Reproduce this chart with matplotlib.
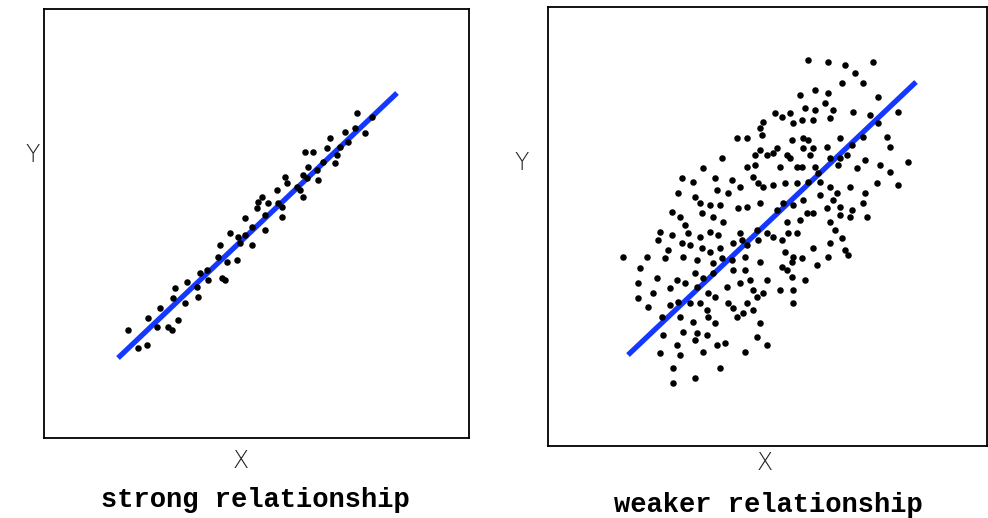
import matplotlib
matplotlib.use("Agg")
import matplotlib.pyplot as plt

# ---- strong relationship (left panel) ----
strong_x = [313, 328, 301, 311, 321, 286, 304, 296, 283, 261, 269, 293, 291, 279, 264, 273,
            274, 259, 263, 241, 243, 233, 253, 256, 259, 218, 214, 213, 224, 234, 238, 238,
            221, 201, 208, 221, 186, 194, 201, 196, 208, 176, 174, 183, 193, 178, 181, 156,
            163, 164, 153, 154, 143, 131, 129, 141, 116, 104, 113, 124, 128, 134, 84, 103, 94]
strong_y = [325, 321, 306, 310, 305, 300, 296, 291, 290, 286, 286, 283, 275, 276, 271, 268,
            258, 263, 260, 261, 255, 248, 251, 248, 241, 241, 236, 230, 235, 235, 231, 221,
            223, 220, 211, 208, 205, 201, 203, 195, 193, 193, 181, 176, 178, 160, 158, 165,
            168, 158, 151, 141, 156, 150, 140, 135, 130, 120, 111, 111, 108, 118, 108, 93, 90]
strong_fit_x = [74, 353]
strong_fit_y = [80, 345]

# ---- weaker relationship (right panel) ----
weak_x = [260, 280, 297, 325, 307, 294, 315, 267, 280, 252, 330, 277, 257, 267, 285, 305,
          350, 227, 234, 242, 215, 245, 254, 265, 282, 322, 330, 212, 189, 199, 214, 244,
          255, 260, 292, 339, 304, 315, 229, 255, 265, 279, 212, 207, 219, 225, 239, 242,
          262, 282, 292, 299, 317, 342, 360, 174, 199, 207, 232, 249, 254, 267, 270, 290,
          309, 332, 342, 350, 155, 134, 145, 167, 169, 184, 192, 205, 210, 215, 225, 237,
          249, 260, 272, 282, 289, 302, 317, 329, 130, 147, 152, 162, 172, 180, 199, 212,
          235, 245, 255, 272, 285, 292, 304, 315, 124, 132, 154, 165, 175, 190, 229, 239,
          252, 259, 265, 279, 282, 292, 302, 319, 112, 124, 137, 140, 152, 162, 170, 192,
          209, 219, 225, 234, 240, 249, 287, 294, 110, 120, 134, 142, 154, 162, 172, 185,
          194, 199, 210, 237, 245, 254, 265, 282, 297, 300, 75, 99, 117, 135, 149, 165,
          174, 184, 197, 212, 234, 244, 269, 280, 92, 109, 129, 147, 155, 165, 185, 197,
          202, 219, 239, 244, 257, 90, 105, 122, 137, 149, 160, 167, 179, 192, 205, 209,
          215, 232, 245, 90, 100, 122, 130, 142, 152, 159, 180, 185, 199, 205, 245, 114,
          132, 145, 160, 167, 189, 195, 212, 115, 135, 149, 147, 159, 209, 219, 129, 169,
          177, 197, 112, 132, 155, 125, 147, 172, 125]
weak_y = [386, 384, 381, 384, 373, 363, 363, 356, 353, 351, 349, 343, 338, 336, 336, 334,
          334, 333, 329, 333, 324, 323, 326, 326, 328, 331, 323, 318, 308, 308, 311, 306,
          308, 306, 308, 309, 301, 309, 298, 298, 298, 299, 296, 291, 291, 293, 291, 288,
          291, 288, 288, 291, 286, 299, 284, 288, 279, 281, 279, 279, 279, 279, 273, 281,
          278, 281, 274, 261, 278, 268, 264, 268, 256, 266, 259, 269, 263, 259, 261, 263,
          263, 264, 264, 259, 253, 259, 253, 263, 253, 249, 243, 241, 241, 253, 239, 243,
          243, 241, 246, 251, 246, 239, 236, 243, 234, 229, 233, 229, 224, 238, 236, 224,
          226, 233, 233, 238, 224, 231, 229, 229, 214, 211, 221, 213, 209, 214, 211, 213,
          216, 213, 209, 206, 213, 213, 216, 208, 206, 196, 203, 201, 198, 194, 198, 203,
          206, 201, 206, 194, 189, 188, 198, 203, 196, 191, 189, 189, 188, 189, 186, 183,
          188, 186, 189, 184, 179, 184, 181, 189, 178, 168, 166, 173, 168, 173, 176, 176,
          166, 166, 176, 169, 166, 163, 153, 158, 163, 159, 153, 149, 159, 163, 156, 149,
          153, 156, 156, 148, 139, 141, 144, 143, 143, 136, 143, 138, 143, 136, 143, 129,
          129, 124, 129, 123, 129, 133, 123, 111, 114, 113, 106, 111, 109, 101, 101, 101,
          103, 94, 93, 91, 94, 78, 68, 78, 63]
weak_fit_x = [80, 368]
weak_fit_y = [91, 364]

titles = ["strong relationship", "weaker relationship"]
x_label = "X"
y_label = "Y"

W, H = 988, 518
fig = plt.figure(figsize=(W / 100, H / 100), dpi=100)

ax1 = fig.add_axes([44 / W, (H - 438) / H, 425 / W, 429 / H])
ax2 = fig.add_axes([548 / W, (H - 446) / H, 439 / W, 439 / H])

line_color = "#1438ff"
panels = [
    (ax1, strong_x, strong_y, strong_fit_x, strong_fit_y, (0, 425), (0, 429)),
    (ax2, weak_x, weak_y, weak_fit_x, weak_fit_y, (0, 439), (0, 439)),
]
for ax, xs, ys, fx, fy, xl, yl in panels:
    ax.plot(fx, fy, color=line_color, lw=3.8, solid_capstyle="butt", zorder=2)
    ax.scatter(xs, ys, s=22, color="black", marker="o", linewidths=0, zorder=3)
    ax.set_xlim(*xl)
    ax.set_ylim(*yl)
    ax.set_xticks([])
    ax.set_yticks([])
    for sp in ax.spines.values():
        sp.set_linewidth(1.3)
        sp.set_color("black")

label_kw = dict(fontsize=17, family="DejaVu Sans", fontweight="light", color="#222222",
                ha="center", va="center")
fig.text(33 / W, 1 - 155 / H, y_label, **label_kw)
fig.text(522 / W, 1 - 163 / H, y_label, **label_kw)
fig.text(241 / W, 1 - 461 / H, x_label, **label_kw)
fig.text(765 / W, 1 - 463 / H, x_label, **label_kw)

title_kw = dict(fontsize=19.5, family="Liberation Mono", fontweight="bold", color="black",
                ha="center", va="center")
fig.text(255 / W, 1 - 500 / H, titles[0], **title_kw)
fig.text(768 / W, 1 - 505 / H, titles[1], **title_kw)

fig.savefig("out.png", dpi=100)
